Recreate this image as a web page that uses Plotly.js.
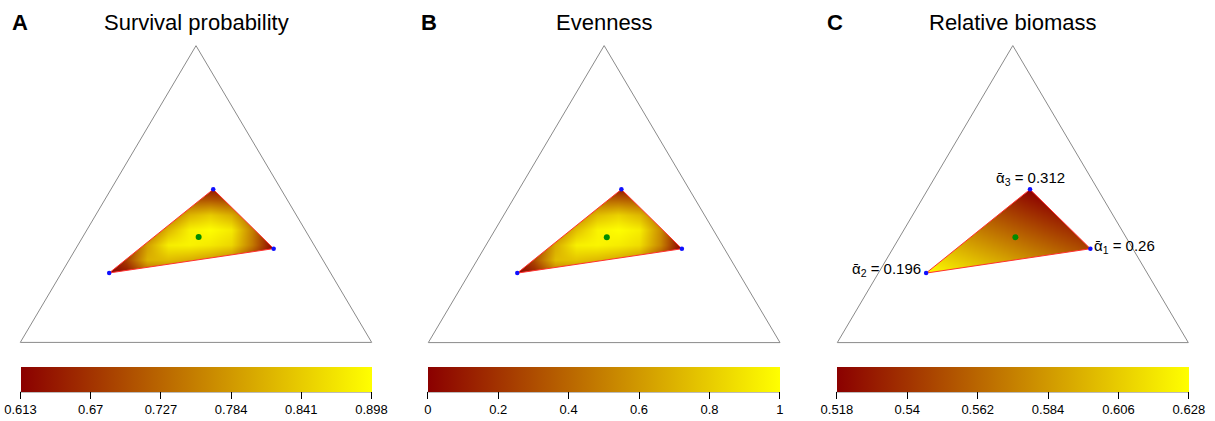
<!DOCTYPE html>
<html>
<head>
<meta charset="utf-8">
<script src="https://cdn.plot.ly/plotly-3.0.1.min.js"></script>
<style>html,body{margin:0;padding:0;background:#fff}#chart{width:1215px;height:421px}</style>
</head>
<body>
<div id="chart"></div>
<script>
// ---------------- data ----------------
const panelLetters = ["A", "B", "C"];
const panelTitles = ["Survival probability", "Evenness", "Relative biomass"];

// simplex corners (shares of species 1, 2, 3): bottom-right, bottom-left, top
const simplexP1 = [1, 0, 0, 1];
const simplexP2 = [0, 1, 0, 0];
const simplexP3 = [0, 0, 1, 0];

// feasibility-region vertices, order: vertex 1 (right), vertex 2 (left), vertex 3 (top)
const vertexP1 = [0.563, 0.136, 0.291];
const vertexP2 = [0.121, 0.630, 0.193];
const vertexP3 = [0.316, 0.234, 0.516];
const centroidP = [0.330, 0.315, 0.355];
const alphaNames = ["1", "2", "3"];
const alphaValues = ["0.26", "0.196", "0.312"];

// field samples (simplex x = p1 + p3/2, y = p3)
const gridX = [0.24, 0.30, 0.36, 0.42, 0.48, 0.54, 0.60, 0.66, 0.72];
const gridY = [0.23, 0.28, 0.33, 0.38, 0.43, 0.48, 0.53];
const survivalZ = [
  [0.613, 0.632, 0.711, 0.724, 0.707, 0.685, 0.661, 0.613, 0.613],
  [0.613, 0.683, 0.812, 0.823, 0.807, 0.786, 0.758, 0.668, 0.613],
  [0.613, 0.660, 0.791, 0.879, 0.885, 0.874, 0.853, 0.749, 0.613],
  [0.613, 0.618, 0.722, 0.817, 0.883, 0.897, 0.875, 0.754, 0.613],
  [0.613, 0.613, 0.647, 0.737, 0.814, 0.840, 0.807, 0.716, 0.613],
  [0.613, 0.613, 0.613, 0.656, 0.710, 0.710, 0.696, 0.652, 0.613],
  [0.613, 0.613, 0.613, 0.613, 0.622, 0.613, 0.613, 0.613, 0.613]
];
const evennessZ = [
  [0.000, 0.100, 0.404, 0.449, 0.389, 0.310, 0.219, 0.000, 0.000],
  [0.000, 0.303, 0.737, 0.771, 0.721, 0.654, 0.563, 0.247, 0.000],
  [0.000, 0.216, 0.670, 0.943, 0.961, 0.928, 0.864, 0.533, 0.000],
  [0.000, 0.032, 0.442, 0.753, 0.955, 0.997, 0.931, 0.550, 0.000],
  [0.000, 0.000, 0.164, 0.493, 0.743, 0.824, 0.721, 0.421, 0.000],
  [0.000, 0.000, 0.000, 0.200, 0.400, 0.400, 0.350, 0.184, 0.000],
  [0.000, 0.000, 0.000, 0.000, 0.053, 0.000, 0.000, 0.000, 0.000]
];
const gridXC = [0.24, 0.49, 0.74];
const gridYC = [0.22, 0.37, 0.52];
const biomassZ = [
  [0.6332, 0.6018, 0.5704],
  [0.5945, 0.5631, 0.5317],
  [0.5558, 0.5244, 0.4930]
];
const survivalTicks = [0.613, 0.67, 0.727, 0.784, 0.841, 0.898];
const evennessTicks = [0, 0.2, 0.4, 0.6, 0.8, 1];
const biomassTicks = [0.518, 0.54, 0.562, 0.584, 0.606, 0.628];

// ---------------- styling / layout ----------------
const W = 1215, H = 421;
const FONT = "Liberation Sans, Arial, Helvetica, sans-serif";
const RAMP = [[0, "rgb(139,0,0)"], [1, "rgb(255,255,0)"]];
const geom = [
  {x0: 20.3, w: 351.4, base: 342.4, top: 45.7, cbL: 20.3, cbR: 371.7},
  {x0: 428.3, w: 351.7, base: 342.6, top: 45.6, cbL: 427.7, cbR: 780.0},
  {x0: 837.3, w: 351.0, base: 342.6, top: 45.6, cbL: 836.7, cbR: 1189.0}
];
const CB_TOP = 367, CB_THICK = 24.5;

function toX(p1, p3) { return p1.map((v, i) => v + p3[i] / 2); }
function toY(p3) { return p3.slice(); }

const fields = [
  {x: gridX, y: gridY, z: survivalZ, ticks: survivalTicks},
  {x: gridX, y: gridY, z: evennessZ, ticks: evennessTicks},
  {x: gridXC, y: gridYC, z: biomassZ, ticks: biomassTicks}
];

const traces = [];
const layout = {
  width: W, height: H,
  margin: {l: 0, r: 0, t: 0, b: 0, autoexpand: false},
  paper_bgcolor: "#fff", plot_bgcolor: "rgba(0,0,0,0)",
  showlegend: false,
  font: {family: FONT, color: "#000"},
  annotations: [], shapes: []
};

const vx = toX(vertexP1, vertexP3), vy = toY(vertexP3);
const cx = toX([centroidP[0]], [centroidP[2]]), cy = [centroidP[2]];

for (let k = 0; k < 3; k++) {
  const g = geom[k];
  const sfx = k === 0 ? "" : String(k + 1);
  const xa = "x" + sfx, ya = "y" + sfx;
  const pad = 14;
  const scaleY = g.base - g.top;
  layout["xaxis" + sfx] = {
    domain: [(g.x0 - pad) / W, (g.x0 + g.w + pad) / W],
    range: [-pad / g.w, 1 + pad / g.w],
    visible: false, fixedrange: true
  };
  layout["yaxis" + sfx] = {
    domain: [0, 1],
    range: [(g.base - H) / scaleY, g.base / scaleY],
    visible: false, fixedrange: true
  };
  const f = fields[k];
  const lo = f.ticks[0], hi = f.ticks[f.ticks.length - 1];
  traces.push({
    type: "heatmap", x: f.x, y: f.y, z: f.z, zmin: lo, zmax: hi,
    zsmooth: "best", colorscale: RAMP, showscale: true, hoverinfo: "skip",
    xaxis: xa, yaxis: ya,
    colorbar: {
      orientation: "h", xref: "paper", yref: "paper",
      x: ((g.cbL + g.cbR) / 2) / W, xanchor: "center",
      y: (H - CB_TOP) / H, yanchor: "top",
      len: g.cbR - g.cbL, lenmode: "pixels",
      thickness: CB_THICK, thicknessmode: "pixels",
      xpad: 0, ypad: 0, outlinewidth: 0, borderwidth: 0,
      ticks: "outside", ticklen: 7, tickwidth: 1, tickcolor: "#000",
      tickvals: f.ticks, ticktext: f.ticks.map(String),
      tickfont: {family: FONT, size: 13, color: "#000"}
    }
  });
  // white masks outside the feasibility triangle
  const d = 0.45, h = 0.45;
  for (let i = 0; i < 3; i++) {
    const j = (i + 1) % 3;
    let ex = vx[j] - vx[i], ey = vy[j] - vy[i];
    const L = Math.hypot(ex, ey); ex /= L; ey /= L;
    let nx = -ey, ny = ex;
    const mx = (vx[i] + vx[j]) / 2 - cx[0], my = (vy[i] + vy[j]) / 2 - cy[0];
    if (nx * mx + ny * my < 0) { nx = -nx; ny = -ny; }
    const px = [vx[i] - ex * d, vx[j] + ex * d, vx[j] + ex * d + nx * h, vx[i] - ex * d + nx * h];
    const py = [vy[i] - ey * d, vy[j] + ey * d, vy[j] + ey * d + ny * h, vy[i] - ey * d + ny * h];
    traces.push({
      type: "scatter", mode: "lines", x: px.concat([px[0]]), y: py.concat([py[0]]),
      fill: "toself", fillcolor: "#ffffff", line: {width: 0, color: "rgba(0,0,0,0)"},
      hoverinfo: "skip", xaxis: xa, yaxis: ya
    });
  }
  // simplex outline
  traces.push({
    type: "scatter", mode: "lines", x: toX(simplexP1, simplexP3), y: toY(simplexP3),
    line: {color: "#8a8a8a", width: 1}, hoverinfo: "skip", xaxis: xa, yaxis: ya
  });
  // feasibility triangle outline
  traces.push({
    type: "scatter", mode: "lines", x: vx.concat([vx[0]]), y: vy.concat([vy[0]]),
    line: {color: "#ff3030", width: 1}, hoverinfo: "skip", xaxis: xa, yaxis: ya
  });
  traces.push({
    type: "scatter", mode: "markers", x: vx, y: vy,
    marker: {color: "#1010ff", size: 4.5}, hoverinfo: "skip", xaxis: xa, yaxis: ya
  });
  traces.push({
    type: "scatter", mode: "markers", x: cx, y: cy,
    marker: {color: "#008c00", size: 6}, hoverinfo: "skip", xaxis: xa, yaxis: ya
  });
  // titles
  layout.annotations.push({
    xref: "paper", yref: "paper", x: (g.x0 + g.w / 2) / W, y: (H - 22.5) / H,
    xanchor: "center", yanchor: "middle", showarrow: false, borderpad: 0,
    text: panelTitles[k], font: {family: FONT, size: 22, color: "#000"}
  });
  layout.annotations.push({
    xref: "paper", yref: "paper", x: [11, 419.5, 826][k] / W, y: (H - 22.5) / H,
    xanchor: "left", yanchor: "middle", showarrow: false, borderpad: 0,
    text: "<b>" + panelLetters[k] + "</b>", font: {family: FONT, size: 22, color: "#000"}
  });
  // colorbar axis line
  layout.shapes.push({
    type: "line", xref: "paper", yref: "paper",
    x0: g.cbL / W, x1: g.cbR / W, y0: (H - CB_TOP - CB_THICK - 0.5) / H, y1: (H - CB_TOP - CB_THICK - 0.5) / H,
    line: {color: "#7a7a7a", width: 1}
  });
}

// vertex labels on panel C
const labelPos = [
  {xanchor: "left", yanchor: "middle", xshift: 3, yshift: 2},
  {xanchor: "right", yanchor: "middle", xshift: -4, yshift: 4},
  {xanchor: "center", yanchor: "middle", xshift: 0, yshift: 11}
];
for (let i = 0; i < 3; i++) {
  layout.annotations.push(Object.assign({
    xref: "x3", yref: "y3", x: vx[i], y: vy[i], showarrow: false, borderpad: 0,
    text: "ᾱ<sub>" + alphaNames[i] + "</sub> = " + alphaValues[i],
    font: {family: FONT, size: 15, color: "#000"}
  }, labelPos[i]));
}

Plotly.newPlot("chart", traces, layout, {staticPlot: true, displayModeBar: false});
</script>
</body>
</html>
